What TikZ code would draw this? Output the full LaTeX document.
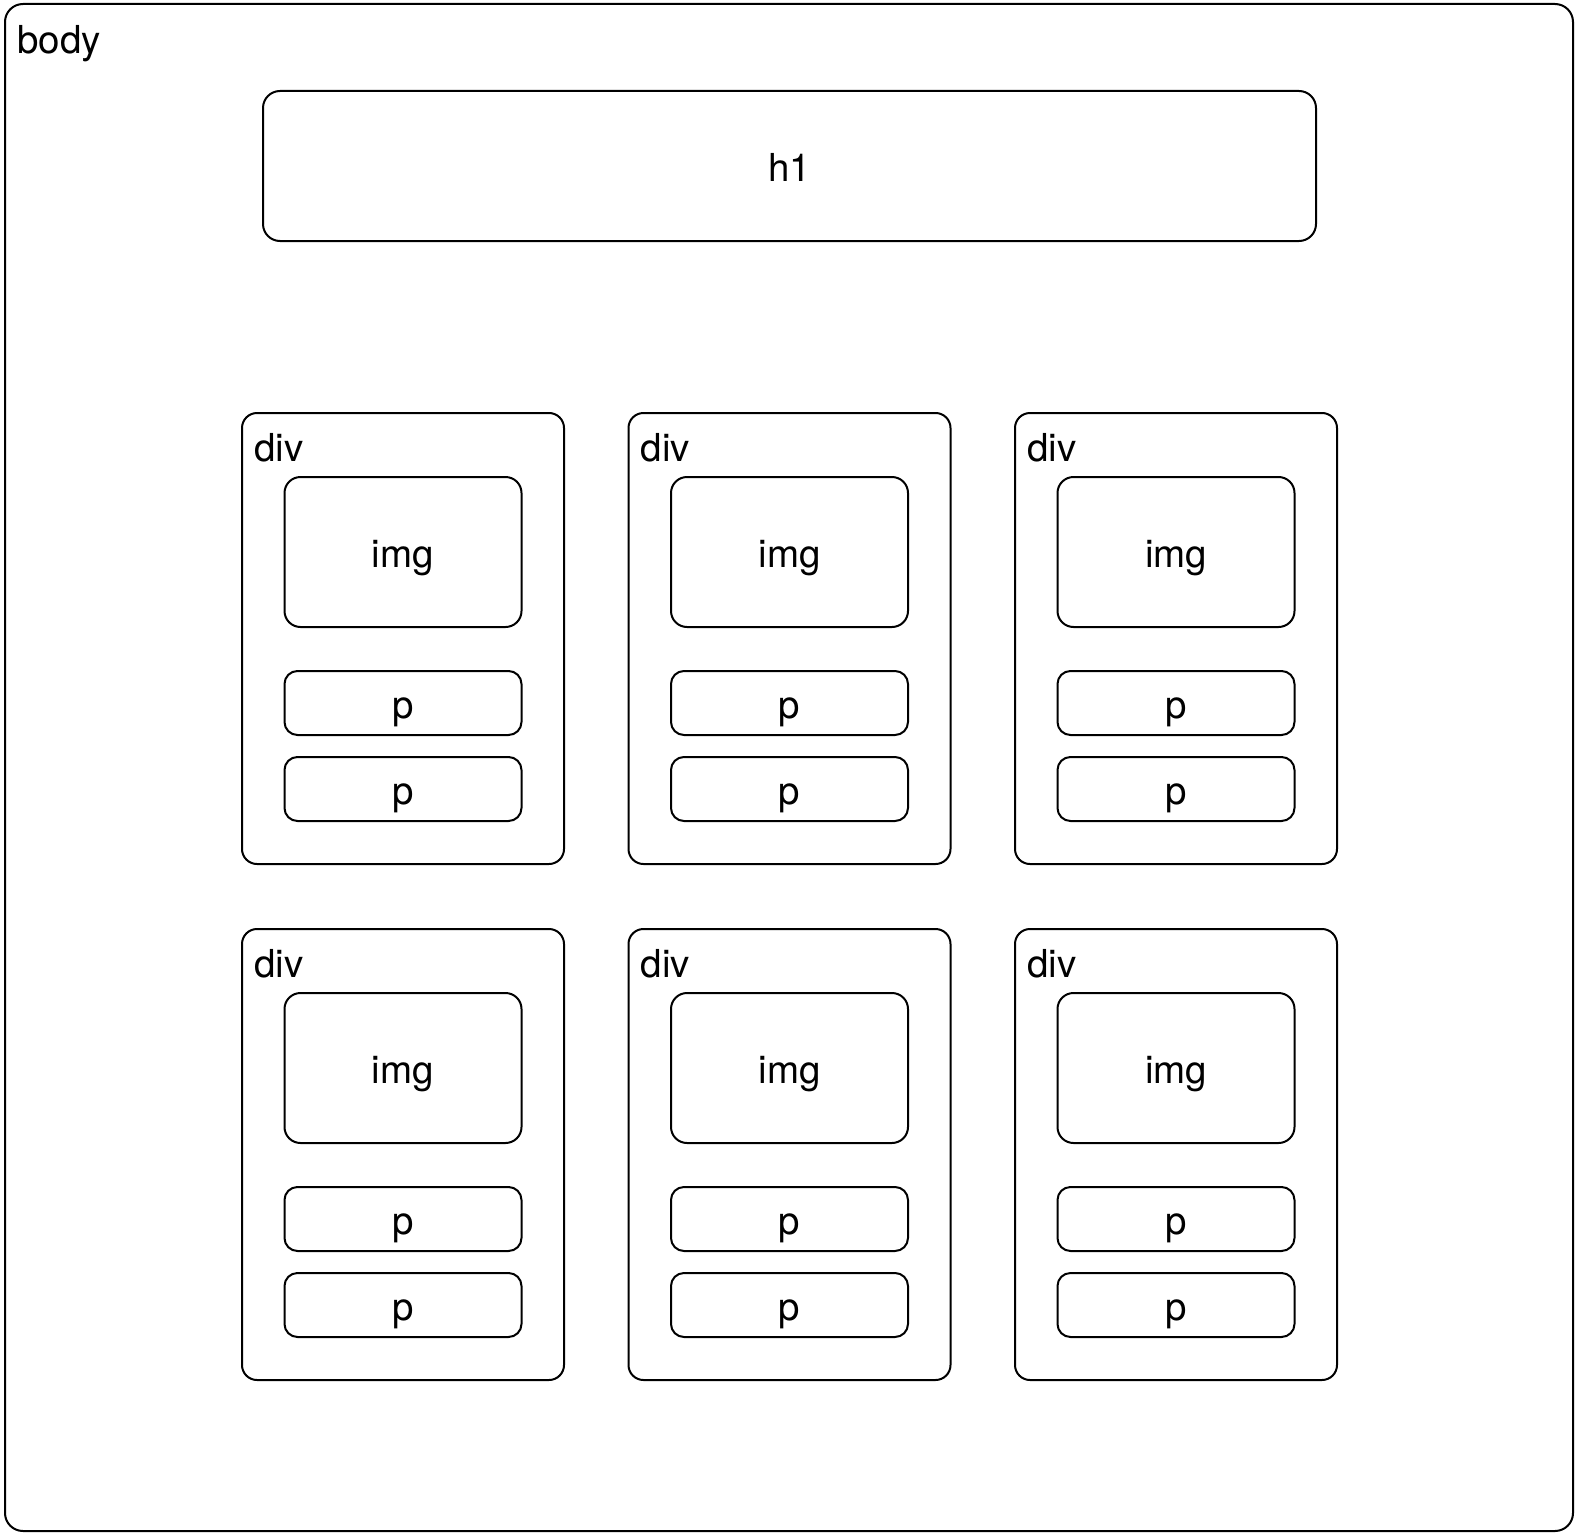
\documentclass[tikz,border=0pt]{standalone}
\usepackage{fontspec}
\setmainfont{TeX Gyre Heros}
\begin{document}
\begin{tikzpicture}[x=1pt,y=-1pt,
  box/.style={draw=black,line width=2pt,rounded corners=#1,inner sep=0pt},
  box/.default=14pt,
  txt/.style={font=\fontsize{38.5}{44}\selectfont,inner sep=0pt,text height=30pt,text depth=0pt},
  lbl/.style={font=\fontsize{38.5}{44}\selectfont,inner sep=0pt,anchor=base west}]
\useasboundingbox (0,0) rectangle (1579,1536);
\node[box=18pt,minimum width=1568pt,minimum height=1527pt] (body) at (789,767.5) {};
\node[lbl] (bodylbl) at (17,54) {body};
\node[box=17pt,minimum width=1053pt,minimum height=150pt,txt] (h1) at (789.5,166) {h1};
\foreach \r/\ty in {1/413,2/929}{
  \foreach \c/\cx in {1/403,2/789.5,3/1176}{
    \node[box=15pt,minimum width=322pt,minimum height=451pt] (d\r\c) at (\cx,\ty+225.5) {};
    \node[lbl] (dl\r\c) at (\cx-149,\ty+48) {div};
    \node[box=16pt,minimum width=237pt,minimum height=150pt,txt] (i\r\c) at (\cx,\ty+139) {img};
    \node[box=13pt,minimum width=237pt,minimum height=64pt,txt] (pa\r\c) at (\cx,\ty+290) {p};
    \node[box=13pt,minimum width=237pt,minimum height=64pt,txt] (pb\r\c) at (\cx,\ty+376) {p};
  }
}
\end{tikzpicture}
\end{document}
